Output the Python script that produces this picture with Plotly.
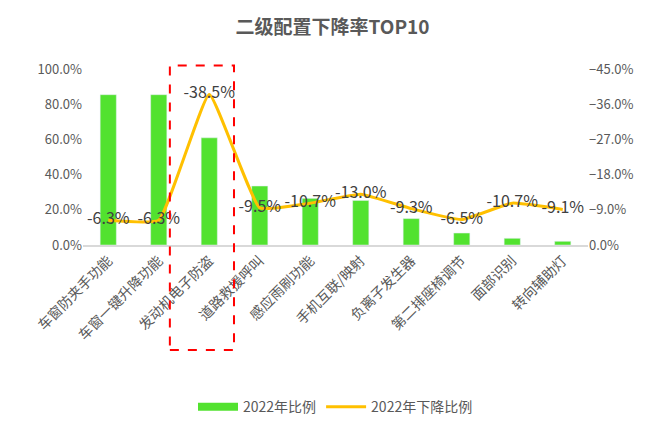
import plotly.graph_objects as go

categories = ["车窗防夹手功能", "车窗一键升降功能", "发动机电子防盗", "道路救援呼叫", "感应雨刷功能",
              "手机互联/映射", "负离子发生器", "第二排座椅调节", "面部识别", "转向辅助灯"]
share_2022 = [0.854, 0.854, 0.609, 0.335, 0.265, 0.253, 0.150, 0.068, 0.038, 0.021]
drop_2022 = [-0.063, -0.063, -0.385, -0.095, -0.107, -0.130, -0.093, -0.065, -0.107, -0.091]
left_ticks = [0, 0.2, 0.4, 0.6, 0.8, 1.0]
right_ticks = [0, -0.09, -0.18, -0.27, -0.36, -0.45]

font = "Microsoft YaHei, Noto Sans CJK SC, sans-serif"
grey = "#595959"
green = "#52E22F"

fig = go.Figure()

fig.add_trace(go.Bar(
    x=categories, y=share_2022, name="2022年比例",
    marker_color=green, width=0.32, showlegend=False,
))

# wide flat legend key like the original's
fig.add_trace(go.Scatter(
    x=[None], y=[None], name="2022年比例", mode="lines",
    line=dict(color=green, width=8),
))

fig.add_trace(go.Scatter(
    x=categories, y=drop_2022, name="2022年下降比例", yaxis="y2",
    mode="lines+text", line=dict(color="#FFC000", width=3, shape="spline", smoothing=0.35),
    text=[f"{v * 100:.1f}%" for v in drop_2022], textposition="middle center",
    textfont=dict(size=16, color="#404040"),
))

# page body adds 8px, so the figure is 8px smaller than the window
fig.update_layout(
    width=649, height=425,
    margin=dict(l=75, r=69, t=61, b=187),
    paper_bgcolor="white", plot_bgcolor="white",
    font=dict(family=font, color=grey, size=13),
    title=dict(text="<b>二级配置下降率TOP10</b>", x=0.5, xanchor="center",
               y=1 - 19 / 425, yanchor="middle",
               font=dict(size=19, color=grey)),
    bargap=0.68,
    xaxis=dict(tickangle=-45, showline=True, linecolor="#D9D9D9", linewidth=2,
               ticks="", automargin=False, tickfont=dict(size=14, color=grey)),
    yaxis=dict(range=[0, 1.0], tickvals=left_ticks, tickformat=".1%", showgrid=False,
               zeroline=False, automargin=False, tickfont=dict(size=13, color=grey)),
    yaxis2=dict(overlaying="y", side="right", range=[0, -0.45], tickvals=right_ticks,
                tickformat=".1%", showgrid=False, zeroline=False, automargin=False,
                tickfont=dict(size=13, color=grey)),
    legend=dict(orientation="h", x=0.5, xanchor="center", y=-0.91, yanchor="middle",
                itemwidth=40, font=dict(size=14, color=grey)),
    showlegend=True,
)

# red dashed highlight box
fig.add_shape(type="rect", xref="paper", yref="paper",
              x0=0.172, x1=0.299, y0=-0.597, y1=1.02,
              line=dict(color="#FF0000", width=2, dash="dash"))

fig.write_html("out.html")
